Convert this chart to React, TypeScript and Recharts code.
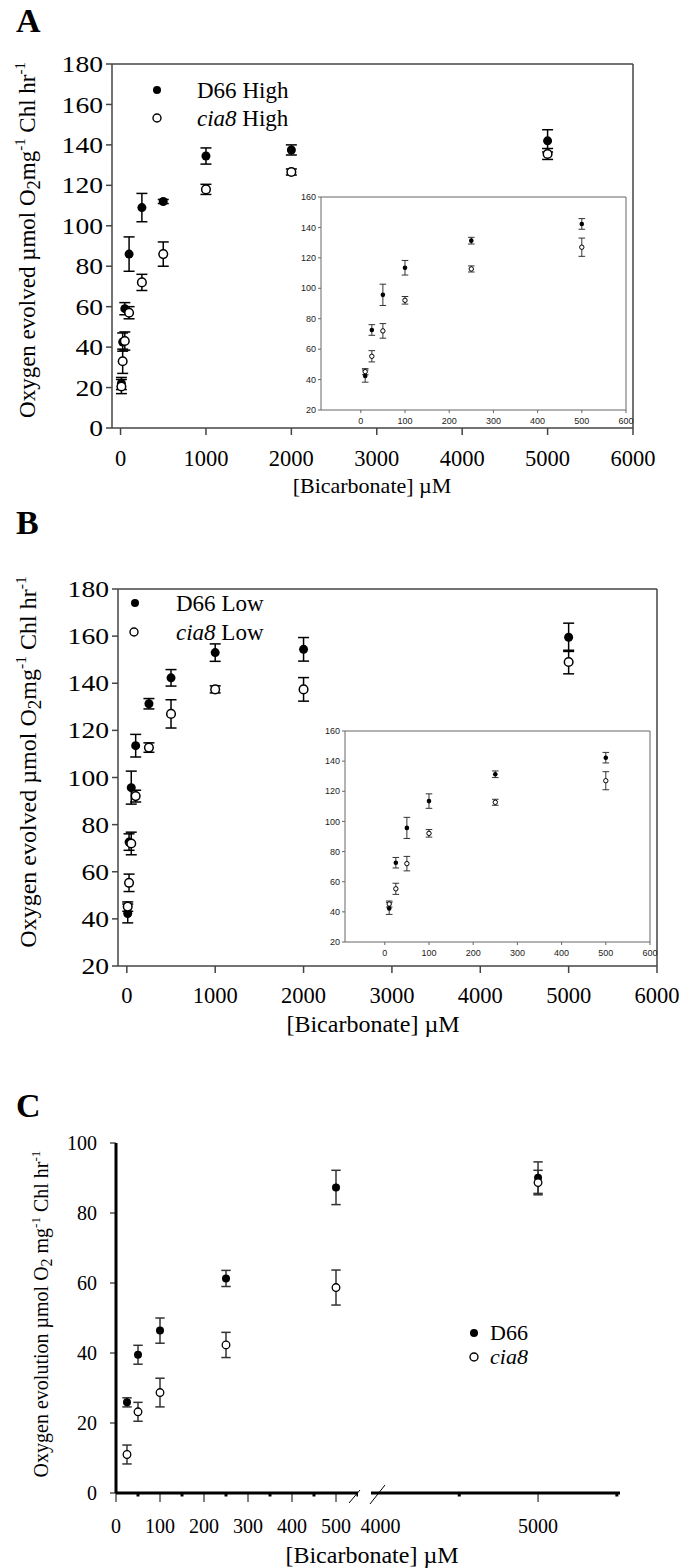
import React from "react";
import { ScatterChart, Scatter, XAxis, YAxis, ErrorBar, ReferenceLine } from "recharts";

const SERIF = '"Liberation Serif", "Times New Roman", serif';
const SANS = '"Liberation Sans", Arial, sans-serif';

// bicarbonate concentrations (µM)
const concAB = [10, 25, 50, 100, 250, 500, 1000, 2000, 5000];
const concC = [25, 50, 100, 250, 500, 5000];

// A: high CO2 grown cells
const d66High = [22, 42.5, 59, 86, 109, 112, 134.5, 137.5, 142];
const d66HighErr = [3, 4.5, 3, 8.5, 7, 1, 4, 2.5, 5.5];
const cia8High = [20.5, 33, 43, 57, 72, 86, 118, 126.6, 135.5];
const cia8HighErr = [3.5, 6, 4.5, 3, 4, 6, 2.5, 1.5, 2.7];

// B: low CO2 grown cells (the insets show the first six points)
const d66Low = [42.3, 72.6, 95.7, 113.5, 131.3, 142.3, 153, 154.4, 159.5];
const d66LowErr = [4, 3.5, 7, 4.8, 2.2, 3.5, 3.7, 5, 6];
const cia8Low = [45.2, 55.3, 72, 92.1, 112.7, 127, 137.4, 137.4, 149];
const cia8LowErr = [2, 3.7, 4.8, 2.5, 2, 6, 1.5, 5, 5];

// C
const d66C = [25.9, 39.5, 46.4, 61.3, 87.3, 90.1];
const d66CErr = [1.3, 2.7, 3.6, 2.3, 4.9, 4.5];
const cia8C = [11, 23.2, 28.7, 42.3, 58.7, 88.7];
const cia8CErr = [2.7, 2.7, 4.1, 3.6, 5, 3.5];

// ticks
const mainXTicks = [0, 1000, 2000, 3000, 4000, 5000, 6000];
const yTicksA = [0, 20, 40, 60, 80, 100, 120, 140, 160, 180];
const yTicksB = [20, 40, 60, 80, 100, 120, 140, 160, 180];
const insetXTicks = [0, 100, 200, 300, 400, 500, 600];
const insetYTicks = [20, 40, 60, 80, 100, 120, 140, 160];
const yTicksC = [0, 20, 40, 60, 80, 100];
const cLeftTicks = [0, 50, 100, 150, 200, 250, 300, 350, 400, 450, 500, 550];
const cRightTicks = [4000, 4500, 5000, 5500];
const cMajor = [0, 100, 200, 300, 400, 500, 5000];
const cMinor = [50, 150, 250, 350, 450, 550, 4500, 5500];
const cLabeled = [0, 100, 200, 300, 400, 500, 4000, 5000];

type Row = { x: number; y: number; err: number };
const rows = (xs: number[], ys: number[], es: number[]): Row[] =>
  xs.map((x, i) => ({ x, y: ys[i], err: es[i] }));

const dot = (r: number, filled: boolean, sw: number) => (p: any) => (
  <circle
    cx={p.cx}
    cy={p.cy}
    r={r}
    fill={filled ? "#000" : "#fff"}
    stroke="#000"
    strokeWidth={filled ? 0 : sw}
  />
);

const xNum = (size: number, font: string, fill = "#000") => (p: any) => (
  <text
    x={p.x}
    y={p.y}
    dy={size * 0.71}
    textAnchor="middle"
    style={{ fontFamily: font, fontSize: size, fill }}
  >
    {p.payload.value}
  </text>
);

// y labels of the scanned figure are a little wider than plain Times
const yNum = (size: number, font: string, fill = "#000", stretch = 1) => (p: any) => (
  <text
    transform={`translate(${p.x},${p.y}) scale(${stretch},1)`}
    dy={size * 0.35}
    textAnchor="end"
    style={{ fontFamily: font, fontSize: size, fill }}
  >
    {p.payload.value}
  </text>
);

// panel C bottom axis: thin ticks on majors, small squares on minors
const brokenTick = (p: any) => {
  const v = p.payload.value;
  return (
    <g>
      {cMajor.includes(v) && <line x1={p.x} x2={p.x} y1={p.y} y2={p.y + 9} stroke="#000" strokeWidth={1} />}
      {cMinor.includes(v) && <rect x={p.x - 1.5} y={p.y} width={3} height={3.5} fill="#000" />}
      {cLabeled.includes(v) && (
        <text
          x={p.x}
          y={p.y + 40}
          textAnchor="middle"
          style={{ fontFamily: SERIF, fontSize: 20, fill: "#000" }}
        >
          {v}
        </text>
      )}
    </g>
  );
};

const frame = { stroke: "#444", strokeWidth: 1.5 };
const insetFrame = { stroke: "#666", strokeWidth: 1 };
const thick = { stroke: "#000", strokeWidth: 3 };

interface MainProps {
  top: number;
  height: number;
  yWidth: number;
  marginRight: number;
  yDomain: [number, number];
  yTicks: number[];
  filled: Row[];
  open: Row[];
  xTickMargin: number;
}

function MainPanel(p: MainProps) {
  return (
    <div style={{ position: "absolute", left: 0, top: p.top }}>
      <ScatterChart width={698} height={p.height} margin={{ top: 64, right: p.marginRight, bottom: 0, left: 0 }}>
        <XAxis
          type="number"
          dataKey="x"
          domain={[-100, 6000]}
          ticks={mainXTicks}
          interval={0}
          height={72}
          tickSize={7}
          tickMargin={p.xTickMargin}
          axisLine={frame}
          tickLine={frame}
          tick={xNum(22.5, SERIF)}
          allowDataOverflow
        />
        <YAxis
          type="number"
          dataKey="y"
          domain={p.yDomain}
          ticks={p.yTicks}
          interval={0}
          width={p.yWidth}
          tickSize={6}
          tickMargin={3}
          axisLine={frame}
          tickLine={frame}
          tick={yNum(23, SERIF, "#000", 1.2)}
          allowDataOverflow
        />
        <ReferenceLine y={p.yDomain[1]} {...frame} />
        <ReferenceLine x={6000} {...frame} />
        <Scatter data={p.filled} isAnimationActive={false} shape={dot(4.5, true, 0)}>
          <ErrorBar dataKey="err" direction="y" width={5.5} stroke="#000" strokeWidth={1.5} />
        </Scatter>
        <Scatter data={p.open} isAnimationActive={false} shape={dot(4.3, false, 1.5)}>
          <ErrorBar dataKey="err" direction="y" width={5.5} stroke="#000" strokeWidth={1.5} />
        </Scatter>
      </ScatterChart>
    </div>
  );
}

function Inset({ left, top, w, h }: { left: number; top: number; w: number; h: number }) {
  const filled = rows(concAB.slice(0, 6), d66Low, d66LowErr);
  const open = rows(concAB.slice(0, 6), cia8Low, cia8LowErr);
  return (
    <div style={{ position: "absolute", left: left - 40, top: top - 6 }}>
      <ScatterChart width={w + 48} height={h + 26} margin={{ top: 6, right: 8, bottom: 0, left: 0 }}>
        <XAxis
          type="number"
          dataKey="x"
          domain={[-90, 600]}
          ticks={insetXTicks}
          interval={0}
          height={20}
          tickSize={3}
          tickMargin={5}
          axisLine={insetFrame}
          tickLine={insetFrame}
          tick={xNum(9, SANS, "#222")}
          allowDataOverflow
        />
        <YAxis
          type="number"
          dataKey="y"
          domain={[20, 160]}
          ticks={insetYTicks}
          interval={0}
          width={40}
          tickSize={3}
          tickMargin={2}
          axisLine={insetFrame}
          tickLine={insetFrame}
          tick={yNum(9, SANS, "#222")}
          allowDataOverflow
        />
        <ReferenceLine y={160} {...insetFrame} />
        <ReferenceLine x={600} {...insetFrame} />
        <Scatter data={filled} isAnimationActive={false} shape={dot(2.3, true, 0)}>
          <ErrorBar dataKey="err" direction="y" width={3.3} stroke="#333" strokeWidth={1} />
        </Scatter>
        <Scatter data={open} isAnimationActive={false} shape={dot(2.2, false, 1)}>
          <ErrorBar dataKey="err" direction="y" width={3.3} stroke="#333" strokeWidth={1} />
        </Scatter>
      </ScatterChart>
    </div>
  );
}

function PanelC() {
  const filled = rows(concC, d66C, d66CErr);
  const open = rows(concC, cia8C, cia8CErr);
  const low = (r: Row[]) => r.filter((d) => d.x <= 550);
  const high = (r: Row[]) => r.filter((d) => d.x >= 3940);
  return (
    <>
      <div style={{ position: "absolute", left: 0, top: 1093 }}>
        <ScatterChart width={358} height={475} margin={{ top: 50, right: 0, bottom: 0, left: 0 }}>
          <XAxis
            type="number"
            dataKey="x"
            domain={[0, 550]}
            ticks={cLeftTicks}
            interval={0}
            height={75}
            tickSize={0}
            tickMargin={0}
            tickLine={false}
            axisLine={thick}
            tick={brokenTick}
            allowDataOverflow
          />
          <YAxis
            type="number"
            dataKey="y"
            domain={[0, 100]}
            ticks={yTicksC}
            interval={0}
            width={116}
            tickSize={6}
            tickMargin={13}
            axisLine={thick}
            tickLine={{ stroke: "#000", strokeWidth: 1 }}
            tick={yNum(20, SERIF)}
            allowDataOverflow
          />
          <Scatter data={low(filled)} isAnimationActive={false} shape={dot(4, true, 0)}>
            <ErrorBar dataKey="err" direction="y" width={4.7} stroke="#333" strokeWidth={1.5} />
          </Scatter>
          <Scatter data={low(open)} isAnimationActive={false} shape={dot(3.8, false, 1.3)}>
            <ErrorBar dataKey="err" direction="y" width={4.7} stroke="#333" strokeWidth={1.5} />
          </Scatter>
        </ScatterChart>
      </div>
      <div style={{ position: "absolute", left: 358, top: 1093 }}>
        <ScatterChart width={340} height={475} margin={{ top: 50, right: 78, bottom: 0, left: 13 }}>
          <XAxis
            type="number"
            dataKey="x"
            domain={[3940, 5520]}
            ticks={cRightTicks}
            interval={0}
            height={75}
            tickSize={0}
            tickMargin={0}
            tickLine={false}
            axisLine={thick}
            tick={brokenTick}
            allowDataOverflow
          />
          <YAxis type="number" dataKey="y" domain={[0, 100]} hide />
          <Scatter data={high(filled)} isAnimationActive={false} shape={dot(4, true, 0)}>
            <ErrorBar dataKey="err" direction="y" width={4.7} stroke="#333" strokeWidth={1.5} />
          </Scatter>
          <Scatter data={high(open)} isAnimationActive={false} shape={dot(3.8, false, 1.3)}>
            <ErrorBar dataKey="err" direction="y" width={4.7} stroke="#333" strokeWidth={1.5} />
          </Scatter>
        </ScatterChart>
      </div>
    </>
  );
}

// rotated y title with sub/superscripts
function YTitle({ x, y, size, word, gap }: { x: number; y: number; size: number; word: string; gap: boolean }) {
  const sub = size * 0.22;
  const sup = size * 0.42;
  return (
    <text
      transform={`translate(${x},${y}) rotate(-90)`}
      textAnchor="middle"
      style={{ fontFamily: SERIF, fontSize: size, fill: "#000" }}
    >
      <tspan>{`Oxygen ${word} \u00b5mol O`}</tspan>
      <tspan dy={sub} style={{ fontSize: size * 0.8 }}>2</tspan>
      <tspan dy={-sub}>{gap ? " mg" : "mg"}</tspan>
      <tspan dy={-sup} style={{ fontSize: size * 0.65 }}>-1</tspan>
      <tspan dy={sup}> Chl hr</tspan>
      <tspan dy={-sup} style={{ fontSize: size * 0.65 }}>-1</tspan>
    </text>
  );
}

function LegendRow({ cx, cy, tx, size, filled, italic, rest }: any) {
  return (
    <g>
      <circle cx={cx} cy={cy} r={4} fill={filled ? "#000" : "#fff"} stroke="#000" strokeWidth={filled ? 0 : 1.4} />
      <text x={tx} y={cy + size * 0.33} style={{ fontFamily: SERIF, fontSize: size, fill: "#000" }}>
        <tspan style={{ fontStyle: italic ? "italic" : "normal" }}>{italic ? "cia8" : "D66"}</tspan>
        {rest}
      </text>
    </g>
  );
}

export default function App() {
  return (
    <div style={{ position: "absolute", left: 0, top: 0, width: 698, height: 1568, background: "#fff" }}>
      <MainPanel
        top={0}
        height={500}
        yWidth={112}
        marginRight={65}
        yDomain={[0, 180]}
        yTicks={yTicksA}
        filled={rows(concAB, d66High, d66HighErr)}
        open={rows(concAB, cia8High, cia8HighErr)}
        xTickMargin={15}
      />
      <Inset left={321} top={197} w={305} h={213} />
      <MainPanel
        top={525}
        height={513}
        yWidth={118}
        marginRight={41}
        yDomain={[20, 180]}
        yTicks={yTicksB}
        filled={rows(concAB, d66Low, d66LowErr)}
        open={rows(concAB, cia8Low, cia8LowErr)}
        xTickMargin={14}
      />
      <Inset left={345} top={731} w={305} h={211} />
      <PanelC />
      <svg
        width={698}
        height={1568}
        style={{ position: "absolute", left: 0, top: 0, pointerEvents: "none" }}
      >
        <g style={{ fontFamily: SERIF, fontWeight: "bold", fontSize: 34, fill: "#000" }}>
          <text x={16} y={32}>A</text>
          <text x={16} y={534}>B</text>
          <text x={16} y={1117}>C</text>
        </g>
        <YTitle x={35} y={240} size={23} word="evolved" gap={false} />
        <YTitle x={36} y={762} size={24} word="evolved" gap={false} />
        <YTitle x={48} y={1314} size={20} word="evolution" gap={true} />
        <g style={{ fontFamily: SERIF, fill: "#000" }} textAnchor="middle">
          <text x={372} y={493} style={{ fontSize: 22 }}>[Bicarbonate] {"\u00b5"}M</text>
          <text x={373} y={1032} style={{ fontSize: 24 }}>[Bicarbonate] {"\u00b5"}M</text>
          <text x={372} y={1563} style={{ fontSize: 24 }}>[Bicarbonate] {"\u00b5"}M</text>
        </g>
        <LegendRow cx={157} cy={90} tx={197} size={23} filled italic={false} rest=" High" />
        <LegendRow cx={157} cy={118} tx={197} size={23} filled={false} italic rest=" High" />
        <LegendRow cx={135} cy={603} tx={176} size={23} filled italic={false} rest=" Low" />
        <LegendRow cx={134} cy={632} tx={176} size={23} filled={false} italic rest=" Low" />
        <LegendRow cx={474} cy={1333} tx={490} size={22} filled italic={false} rest="" />
        <LegendRow cx={474} cy={1357} tx={490} size={22} filled={false} italic rest="" />
        <g stroke="#000" strokeWidth={1}>
          <line x1={349} y1={1503} x2={360} y2={1490} />
          <line x1={370} y1={1504} x2={385} y2={1485} />
        </g>
      </svg>
    </div>
  );
}
